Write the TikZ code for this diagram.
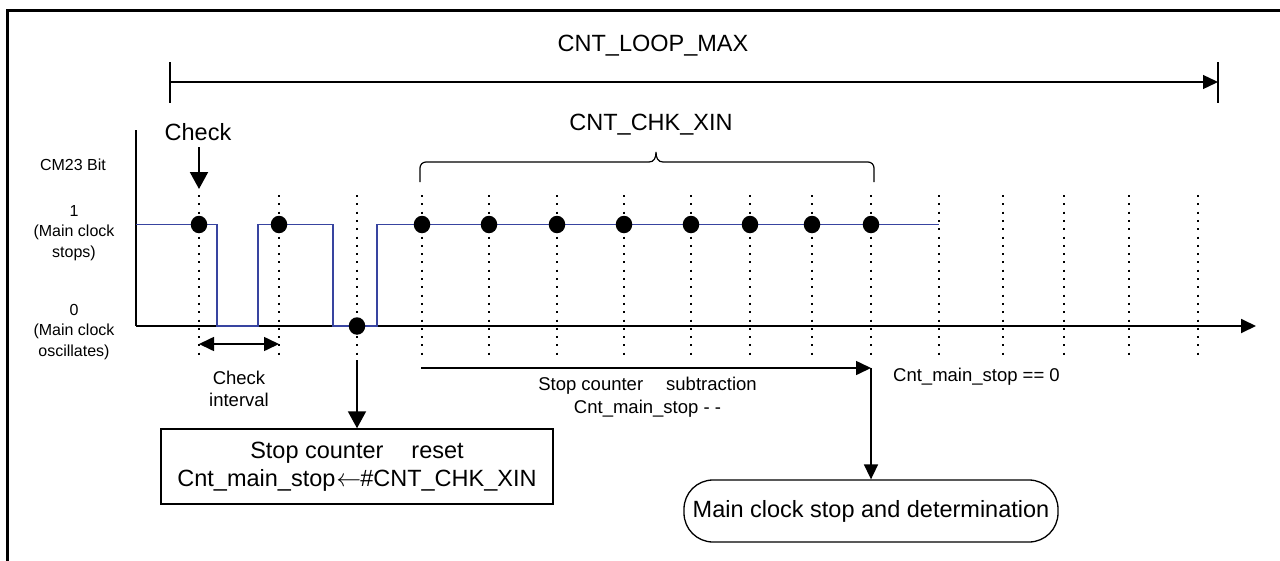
\documentclass[tikz,border=0pt]{standalone}
\usepackage{fontspec}
\setmainfont{Liberation Sans}
\usetikzlibrary{arrows.meta}
\definecolor{wave}{RGB}{56,68,160}
\tikzset{
  big/.style={font=\fontsize{23.5}{28.5}\selectfont, inner sep=0pt},
  mid/.style={font=\fontsize{18.5}{22}\selectfont, inner sep=0pt},
  small/.style={font=\fontsize{16}{20.5}\selectfont, inner sep=0pt},
  axisline/.style={line width=1.8pt},
  spanline/.style={line width=1.3pt},
  dotline/.style={line width=2pt, dash pattern=on 2pt off 6.3pt},
  waveline/.style={draw=wave, line width=1.4pt},
  bigtip/.tip={Triangle[length=17pt,width=18pt]},
  medtip/.tip={Triangle[length=15pt,width=14pt]},
  dot/.style={ellipse, fill=black, inner sep=0pt, minimum width=16.5pt, minimum height=17.5pt},
}
\usetikzlibrary{shapes.geometric}
\begin{document}
\begin{tikzpicture}[x=1pt,y=-1pt]
\useasboundingbox (0,0) rectangle (1280,560);

% outer frame (only the left and top edges fall inside the page)
\draw[line width=3pt] (7.5,575) -- (7.5,10.5) -- (1295,10.5);

% overall loop span
\node[big, anchor=base] (loopmax) at (653,51.7) {CNT\_LOOP\_MAX};
\coordinate (spanL) at (170,82);
\coordinate (spanR) at (1218,82);
\draw[spanline] (170,62) -- (170,103);
\draw[spanline] (1218,62) -- (1218,103);
\draw[spanline, -{medtip}] (spanL) -- (spanR);

% check-count brace
\node[big, anchor=base] (chkxin) at (651,130) {CNT\_CHK\_XIN};
\draw[line width=1.2pt, rounded corners=6pt]
  (420,182) -- (420,162) -- (649,162);
\draw[line width=1.2pt] (649,162) .. controls (654,162) and (656,158) .. (656,152)
  .. controls (656,158) and (658,162) .. (663,162);
\draw[line width=1.2pt, rounded corners=6pt]
  (663,162) -- (874,162) -- (874,182);

% axes
\coordinate (origin) at (136,326);
\coordinate (axisTop) at (136,130);
\coordinate (axisEnd) at (1256,326);
\draw[axisline] (axisTop) -- (origin);
\draw[axisline, -{medtip}] (origin) -- (axisEnd);

% axis labels
\node[small, anchor=base] (cmbit) at (73,170) {CM23 Bit};
\node[small, anchor=base] (hi1) at (74,216) {1};
\node[small, anchor=base] (hi2) at (74,236.5) {(Main clock};
\node[small, anchor=base] (hi3) at (74,257) {stops)};
\node[small, anchor=base] (lo1) at (74,315) {0};
\node[small, anchor=base] (lo2) at (74,335.5) {(Main clock};
\node[small, anchor=base] (lo3) at (74,356) {oscillates)};

% sampling instants
\foreach \x in {199,279,357,422,489,557,624,691,750,812,871,939,1003,1064,1129,1198}
  \draw[dotline] (\x,195) -- (\x,360);

% CM23 bit waveform
\draw[waveline] (136,224.5) -- (217,224.5) -- (217,326) -- (258,326) -- (258,224.5)
  -- (333,224.5) -- (333,326) -- (377,326) -- (377,224.5) -- (939,224.5);

% sampled values
\foreach \x in {199,279,422,489,557,624,691,750,812,871}
  \node[dot] at (\x,224.5) {};
\node[dot] (lowdot) at (357,326) {};

% first check
\node[big, anchor=base] (check) at (198,140) {Check};
\coordinate (checkTo) at (199,189);
\draw[line width=2pt, -{bigtip}] (199,147) -- (checkTo);

% check interval
\coordinate (ciL) at (199,344);
\coordinate (ciR) at (279,344);
\draw[line width=1.6pt, {medtip}-{medtip}] (ciL) -- (ciR);
\node[mid, anchor=base] (ci1) at (239,384) {Check};
\node[mid, anchor=base] (ci2) at (239,406) {interval};

% counter reset
\node[draw, line width=1.5pt, minimum width=392pt, minimum height=75pt,
      big, align=center] (resetbox) at (357,466.5)
  {Stop counter\hspace{28pt}reset\\Cnt\_main\_stop\kern1pt$\leftarrow$\kern-1pt\#CNT\_CHK\_XIN};
\coordinate (resetFrom) at (357,360);
\draw[line width=2pt, -{bigtip}] (resetFrom) -- (resetbox.north);

% counter subtraction
\coordinate (subL) at (421,368);
\coordinate (subR) at (871,368);
\draw[line width=1.6pt, -{medtip}] (subL) -- (subR);
\node[mid, anchor=base] (sub1) at (647.5,390) {Stop counter\hspace{23pt}subtraction};
\node[mid, anchor=base] (sub2) at (647.5,413) {Cnt\_main\_stop - -};
\node[mid, anchor=base] (zero) at (976.5,381.5) {Cnt\_main\_stop == 0};

% stop determination
\node[draw, line width=1.3pt, rounded corners=29pt, minimum width=374pt,
      minimum height=62pt, big] (judge) at (871,511)
  {Main clock stop and determination};
\draw[line width=1.6pt, -{medtip}] (subR) -- (judge.north);
\end{tikzpicture}
\end{document}
